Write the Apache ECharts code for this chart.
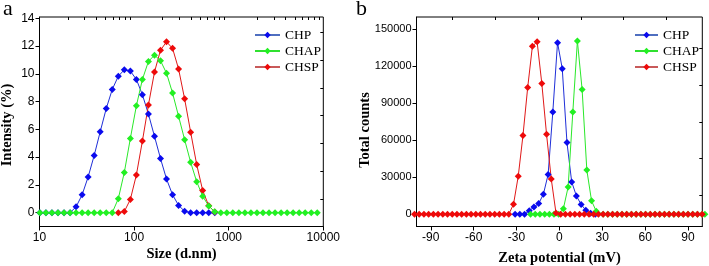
<!DOCTYPE html>
<html><head><meta charset="utf-8">
<script src="https://cdn.jsdelivr.net/npm/echarts@6/dist/echarts.min.js"></script>
<style>html,body{margin:0;padding:0;background:#fff}#c{width:709px;height:266px}</style>
</head><body><div id="c"></div>
<script>
// ---- panel a: size distribution ----
const sizeBins = [10.10, 11.70, 13.54, 15.69, 18.17, 21.04, 24.36, 28.21, 32.67, 37.84, 43.82, 50.75, 58.77, 68.06, 78.82, 91.28, 105.7, 122.4, 141.8, 164.2, 190.1, 220.2, 255.0, 295.3, 342.0, 396.1, 458.7, 531.2, 615.1, 712.4, 825.0, 955.4, 1106, 1281, 1484, 1718, 1990, 2305, 2669, 3091, 3580, 4145, 4801, 5560, 6439, 7456, 8635];
const chpSize = [0, 0, 0, 0, 0, 0, 0.42, 1.28, 2.57, 4.12, 5.83, 7.5, 8.88, 9.83, 10.3, 10.2, 9.6, 8.5, 7.1, 5.5, 3.9, 2.42, 1.29, 0.52, 0.1, 0, 0, 0, 0, 0];
const chspSizeStart = 13;
const chspSize = [0, 0.08, 0.95, 2.72, 5.16, 7.76, 10.13, 11.71, 12.31, 11.84, 10.35, 8.2, 5.8, 3.47, 1.59, 0.5, 0.04];
const chapSize = [0, 0, 0, 0, 0, 0, 0, 0, 0, 0, 0, 0, 0, 1.0, 2.9, 5.35, 7.7, 9.6, 10.9, 11.35, 10.95, 10.05, 8.62, 6.94, 5.26, 3.63, 2.23, 1.18, 0.48, 0.07, 0, 0, 0, 0, 0, 0, 0, 0, 0, 0, 0, 0, 0, 0, 0, 0, 0];
const sizeMajorTicks = [10, 100, 1000, 10000];
const sizeMinorTicks = [20, 30, 40, 50, 60, 70, 80, 90, 200, 300, 400, 500, 600, 700, 800, 900, 2000, 3000, 4000, 5000, 6000, 7000, 8000, 9000];
const intensityMajorTicks = [0, 2, 4, 6, 8, 10, 12, 14];
const intensityMinorTicks = [1, 3, 5, 7, 9, 11, 13];

// ---- panel b: zeta potential ----
const chspZetaX = [-101.4, -98.1, -94.8, -91.5, -88.2, -84.9, -81.6, -78.3, -75.0, -71.7, -68.4, -65.1, -61.8, -58.5, -55.2, -51.9, -48.6, -45.3, -42.0, -38.7, -35.4, -32.1, -28.8, -25.5, -22.2, -18.9, -15.6, -12.3, -9.0, -5.7, -2.4, 0.9, 4.2, 7.5, 10.8, 14.1, 17.4, 20.7, 24.0, 27.3, 30.6, 33.9, 37.2, 40.5, 43.8, 47.1, 50.4, 53.7, 57.0, 60.3, 63.6, 66.9, 70.2, 73.5, 76.8, 80.1, 83.4, 86.7, 90.0, 93.3, 96.6, 99.9];
const chspZetaY = [0, 0, 0, 0, 0, 0, 0, 0, 0, 0, 0, 0, 0, 0, 0, 0, 0, 0, 0, 0, 0, 8100, 30800, 63800, 102700, 136200, 140000, 106000, 64900, 28600, 1000, 0, 0, 0, 0, 0, 0, 0, 0, 0, 0, 0, 0, 0, 0, 0, 0, 0, 0, 0, 0, 0, 0, 0, 0, 0, 0, 0, 0, 0, 0, 0];
const chpZetaX = [-31.0, -27.7, -24.4, -21.1, -17.8, -14.5, -11.2, -7.9, -4.6, -1.3, 2.0, 5.3, 8.6, 11.9, 15.2, 18.5, 21.8, 25.1];
const chpZetaY = [0, 0, 0, 2700, 5900, 8600, 16200, 32200, 83000, 139200, 118100, 58100, 26200, 14800, 7900, 3200, 800, 0];
const chapZetaX = [-20.2, -16.9, -13.6, -10.3, -7.0, -3.8, -0.5, 2.8, 6.1, 9.4, 12.6, 15.9, 19.2, 22.5, 25.8, 30.6, 33.9, 37.2, 40.5, 43.8, 47.1, 50.4, 53.7, 57.0, 60.3, 63.6, 66.9, 70.2, 73.5, 76.8, 80.1, 83.4, 86.7, 90.0, 93.3, 96.6, 99.9, 101.8];
const chapZetaY = [0, 0, 0, 0, 0, 0, 0, 4500, 22000, 83000, 140500, 101200, 35800, 10800, 2300, 0, 0, 0, 0, 0, 0, 0, 0, 0, 0, 0, 0, 0, 0, 0, 0, 0, 0, 0, 0, 0, 0, 0];
const zetaMajorTicks = [-90, -60, -30, 0, 30, 60, 90];
const zetaMinorTicks = [-75, -45, -15, 15, 45, 75];
const countMajorTicks = [0, 30000, 60000, 90000, 120000, 150000];
const countMinorTicks = [15000, 45000, 75000, 105000, 135000];

const names = ['CHP', 'CHAP', 'CHSP'];
const markerColors = ['#0a0aee', '#22f022', '#ee0a0a'];
const lineColors = ['#1f2fd8', '#2ae82a', '#e01818'];
const legendLineColors = ['#4f6fc0', '#30e030', '#c85a5a'];

const SANS = 'Liberation Sans, Arial, sans-serif';
const SERIF = 'Liberation Serif, Times New Roman, serif';

function pairs(xs, ys) { return ys.map((y, i) => [xs[i], y]); }

function majorAxis(extra) {
  return Object.assign({
    axisLine: { show: true, onZero: false, lineStyle: { color: '#000', width: 1 } },
    axisTick: { show: true, inside: false, length: 4, lineStyle: { color: '#000', width: 1 } },
    splitLine: { show: false },
    axisLabel: { color: '#000', fontFamily: SANS, fontSize: 12 }
  }, extra);
}
function minorAxis(extra, ticks) {
  return Object.assign({
    axisLine: { show: false, onZero: false },
    axisTick: { show: true, inside: true, length: 3, customValues: ticks, lineStyle: { color: '#000', width: 1 } },
    splitLine: { show: false },
    axisLabel: { show: false }
  }, extra);
}

function lineSeries(i, xi, yi, data, clip) {
  return {
    type: 'line', name: names[i], xAxisIndex: xi, yAxisIndex: yi, data: data,
    symbol: 'diamond', symbolSize: 7, showSymbol: true, clip: clip,
    lineStyle: { color: lineColors[i], width: 1 },
    itemStyle: { color: markerColors[i] },
    z: 2
  };
}

const fmt = v => String(v);

const option = {
  animation: false,
  backgroundColor: '#fff',
  grid: [
    { left: 39.5, top: 17, width: 283.8, height: 209.5, show: true, borderColor: '#000', borderWidth: 1, backgroundColor: 'transparent' },
    { left: 416.5, top: 17, width: 285.8, height: 209.5, show: true, borderColor: '#000', borderWidth: 1, backgroundColor: 'transparent' }
  ],
  xAxis: [
    majorAxis({ type: 'log', logBase: 10, gridIndex: 0, min: 10, max: 10000,
      axisLabel: { color: '#000', fontFamily: SANS, fontSize: 12, margin: 5, formatter: fmt, customValues: sizeMajorTicks },
      axisTick: { show: true, inside: false, length: 4, customValues: sizeMajorTicks, lineStyle: { color: '#000' } } }),
    minorAxis({ type: 'log', logBase: 10, gridIndex: 0, min: 10, max: 10000 }, sizeMinorTicks),
    majorAxis({ type: 'value', gridIndex: 1, min: -100, max: 100,
      axisLabel: { color: '#000', fontFamily: SANS, fontSize: 12, margin: 5, formatter: fmt, customValues: zetaMajorTicks },
      axisTick: { show: true, inside: false, length: 4, customValues: zetaMajorTicks, lineStyle: { color: '#000' } } }),
    minorAxis({ type: 'value', gridIndex: 1, min: -100, max: 100 }, zetaMinorTicks)
  ],
  yAxis: [
    majorAxis({ type: 'value', gridIndex: 0, min: -1, max: 14.1,
      axisLabel: { color: '#000', fontFamily: SANS, fontSize: 12, margin: 5, formatter: fmt, customValues: intensityMajorTicks },
      axisTick: { show: true, inside: false, length: 4, customValues: intensityMajorTicks, lineStyle: { color: '#000' } } }),
    minorAxis({ type: 'value', gridIndex: 0, min: -1, max: 14.1 }, intensityMinorTicks),
    majorAxis({ type: 'value', gridIndex: 1, min: -10000, max: 160000,
      axisLabel: { color: '#000', fontFamily: SANS, fontSize: 11, margin: 5, formatter: fmt, customValues: countMajorTicks },
      axisTick: { show: true, inside: false, length: 4, customValues: countMajorTicks, lineStyle: { color: '#000' } } }),
    minorAxis({ type: 'value', gridIndex: 1, min: -10000, max: 160000 }, countMinorTicks)
  ],
  legend: [
    { orient: 'vertical', left: 249, top: 23, itemWidth: 25, itemHeight: 8, itemGap: 2,
      textStyle: { fontFamily: SERIF, fontSize: 13.5, color: '#000', lineHeight: 14 },
      data: names.map((n, i) => ({ name: n, lineStyle: { color: legendLineColors[i] } })) },
    { orient: 'vertical', left: 629, top: 23, itemWidth: 23, itemHeight: 8, itemGap: 2,
      textStyle: { fontFamily: SERIF, fontSize: 13.5, color: '#000', lineHeight: 14 },
      data: names.map((n, i) => ({ name: n, lineStyle: { color: legendLineColors[i] } })) }
  ],
  graphic: [
    { type: 'text', left: 3, top: -2, style: { text: 'a', font: '22px ' + SERIF, fill: '#000' } },
    { type: 'text', left: 356, top: -2, style: { text: 'b', font: '22px ' + SERIF, fill: '#000' } },
    { type: 'text', x: 181.5, y: 254, style: { text: 'Size (d.nm)', font: 'bold 14.5px ' + SERIF, fill: '#000', align: 'center', verticalAlign: 'middle' } },
    { type: 'text', x: 559.5, y: 258, style: { text: 'Zeta potential (mV)', font: 'bold 14.5px ' + SERIF, fill: '#000', align: 'center', verticalAlign: 'middle' } },
    { type: 'text', x: 7, y: 125, rotation: Math.PI / 2, style: { text: 'Intensity (%)', font: 'bold 14.5px ' + SERIF, fill: '#000', align: 'center', verticalAlign: 'middle' } },
    { type: 'text', x: 365, y: 130, rotation: Math.PI / 2, style: { text: 'Total counts', font: 'bold 14.5px ' + SERIF, fill: '#000', align: 'center', verticalAlign: 'middle' } }
  ],
  series: [
    lineSeries(0, 0, 0, pairs(sizeBins, chpSize), true),
    lineSeries(2, 0, 0, pairs(sizeBins.slice(chspSizeStart), chspSize), true),
    lineSeries(1, 0, 0, pairs(sizeBins, chapSize), true),
    lineSeries(0, 2, 2, pairs(chpZetaX, chpZetaY), false),
    lineSeries(1, 2, 2, pairs(chapZetaX, chapZetaY), false),
    lineSeries(2, 2, 2, pairs(chspZetaX, chspZetaY), false)
  ]
};

const chart = echarts.init(document.getElementById('c'), null, { renderer: 'canvas' });
chart.setOption(option);
</script>
</body></html>
